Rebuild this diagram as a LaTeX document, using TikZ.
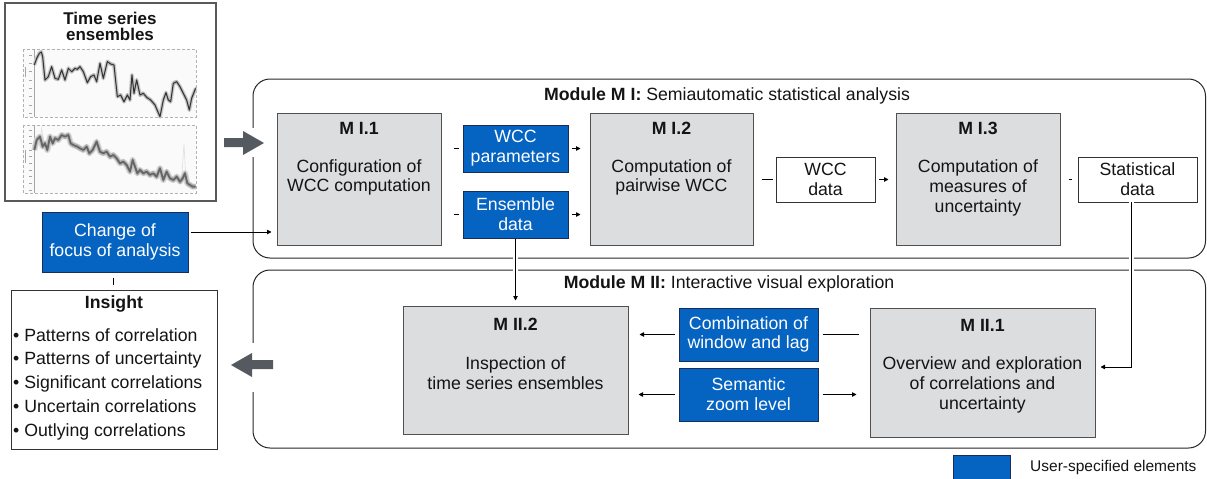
\documentclass[tikz,border=0pt]{standalone}
\usepackage{fontspec}
\setmainfont{Liberation Sans}
\usetikzlibrary{arrows.meta,calc}
\definecolor{ublue}{RGB}{5,99,193}
\definecolor{ubluedraw}{RGB}{25,45,90}
\definecolor{pgray}{RGB}{220,221,223}
\definecolor{pgraydraw}{RGB}{80,80,80}
\definecolor{agray}{RGB}{85,90,97}
\definecolor{txt}{RGB}{20,20,20}
\begin{document}
\begin{tikzpicture}[x=1pt,y=-1pt,
  every node/.style={font=\fontsize{17.7}{19.8}\selectfont, inner sep=0pt, align=center, text=txt},
  proc/.style={draw=pgraydraw, fill=pgray, line width=1pt},
  ubox/.style={draw=ubluedraw, fill=ublue, line width=1pt, text=white},
  wbox/.style={draw=black!80, fill=white, line width=0.9pt},
  modbox/.style={draw=black!85, line width=1pt, rounded corners=17pt},
  ttl/.style={font=\bfseries\fontsize{17.7}{19.8}\selectfont},
  conn/.style={draw=black, line width=0.9pt},
  arr/.style={conn, -{Triangle[length=4.5pt,width=4.5pt]}},
  gap/.style={preaction={draw=white, line width=5pt, arrows=-}},
  band/.style={line width=3pt, draw=gray!45, line join=round},
  ens/.style={line width=0.7pt, draw=gray!60, line join=round},
]
\useasboundingbox (0,0) rectangle (1207,479);

% ---------- module frames ----------
\draw[modbox] (253,79) rectangle (1205.5,258);
\draw[modbox] (253,270) rectangle (1205.5,448);
\node at (727,96) {\textbf{Module M I:} Semiautomatic statistical analysis};
\node at (729,284) {\textbf{Module M II:} Interactive visual exploration};

% ---------- time series ensembles ----------
\node[draw=black!65, line width=1.3pt, minimum width=211pt, minimum height=198pt] (ts) at (110.5,102) {};
\node[font=\bfseries\fontsize{17}{16}\selectfont] at (110,26) {Time series\\ensembles};
\begin{scope}[x=0.3333pt,y=-0.3333pt]
  \begin{scope}[shift={(0,120)}]
    \fill[gray!4] (70,28) rectangle (588,232);
    \fill[gray!4] (70,255) rectangle (588,460);
    \draw[gray!60, densely dashed, line width=0.4pt] (70,28) rectangle (588,232);
    \draw[gray!70, line width=0.5pt] (103,28) -- (103,232);
    \draw[gray!70, line width=0.6pt] (77,80) -- (77,110);
    \foreach \yy in {45,70,95,120,145,170,195,220} \draw[gray!70, line width=0.5pt] (88,\yy) -- (96,\yy);
    \draw[gray!60, densely dashed, line width=0.4pt] (70,255) rectangle (588,460);
    \draw[gray!70, line width=0.5pt] (103,255) -- (103,460);
    \draw[gray!70, line width=0.6pt] (77,330) -- (77,370);
    \foreach \yy in {270,290,310,330,350,370,390,410,430,450} \draw[gray!70, line width=0.5pt] (88,\yy) -- (96,\yy);
    \def\seriesA{(103,75) -- (110,55) -- (118,40) -- (124,36) -- (128,50) -- (135,120) -- (145,110) -- (155,80) -- (165,115) -- (175,118) -- (185,90) -- (195,120) -- (205,85) -- (215,95) -- (225,85) -- (232,88) -- (240,80) -- (250,95) -- (262,128) -- (272,110) -- (282,105) -- (290,125) -- (300,70) -- (310,115) -- (322,65) -- (332,72) -- (342,75) -- (352,170) -- (362,165) -- (372,185) -- (382,165) -- (390,180) -- (396,105) -- (402,160) -- (410,120) -- (420,165) -- (430,160) -- (440,172) -- (452,180) -- (465,195) -- (480,230) -- (490,180) -- (498,158) -- (505,180) -- (512,185) -- (520,130) -- (530,125) -- (540,140) -- (550,160) -- (560,180) -- (568,210) -- (575,175) -- (587,145)}
    \draw[band, draw=gray!30, line width=4pt] \seriesA;
    \draw[band] \seriesA;
    \draw[ens, yshift=-1.5pt] \seriesA;
    \draw[ens, yshift=1.5pt] \seriesA;
    \draw[line width=1pt, draw=black!80, line join=round] \seriesA;
    \def\seriesB{(103,330) -- (110,300) -- (120,290) -- (128,320) -- (135,310) -- (142,330) -- (150,290) -- (158,310) -- (165,295) -- (175,300) -- (185,285) -- (195,290) -- (205,285) -- (212,310) -- (220,315) -- (232,320) -- (240,325) -- (250,330) -- (260,320) -- (268,340) -- (278,330) -- (290,305) -- (300,335) -- (310,340) -- (320,335) -- (330,350) -- (340,345) -- (350,355) -- (360,370) -- (370,365) -- (380,375) -- (390,395) -- (398,360) -- (405,380) -- (412,400) -- (420,390) -- (430,400) -- (440,395) -- (450,405) -- (460,400) -- (470,410) -- (480,385) -- (490,420) -- (500,395) -- (510,415) -- (520,420) -- (530,410) -- (540,425) -- (548,415) -- (555,400) -- (562,430) -- (570,435) -- (578,440) -- (587,440)}
    \draw[gray!25, line width=0.6pt] (545,420) -- (552,310) -- (558,425);
    \draw[gray!25, line width=0.6pt] (118,310) -- (125,265) -- (132,305);
    \draw[line width=6pt, draw=gray!30, line join=round] \seriesB;
    \draw[line width=4pt, draw=gray!50, line join=round] \seriesB;
    \draw[ens, draw=gray!65, yshift=-2pt] \seriesB;
    \draw[ens, draw=gray!65, yshift=2pt] \seriesB;
    \draw[line width=1.8pt, draw=black!60, line join=round] \seriesB;
  \end{scope}
\end{scope}

% ---------- module I nodes ----------
\node[proc, minimum width=164pt, minimum height=132pt] (m11) at (359,179) {};
\node[ttl] at (359,128) {M I.1};
\node at (359,177.5) {Configuration of\\WCC computation};

\node[ubox, minimum width=105pt, minimum height=47pt] (wccp) at (515.5,148.5) {WCC\\parameters};
\node[ubox, minimum width=105pt, minimum height=47pt] (ens) at (515.5,214.5) {Ensemble\\data};

\node[proc, minimum width=163pt, minimum height=132pt] (m12) at (671.5,179) {};
\node[ttl] at (671.5,128) {M I.2};
\node at (671.5,177.5) {Computation of\\pairwise WCC};

\node[wbox, minimum width=99pt, minimum height=45pt] (wccd) at (825.5,179.5) {WCC\\data};

\node[proc, minimum width=164pt, minimum height=132pt] (m13) at (978,179) {};
\node[ttl] at (978,128) {M I.3};
\node at (978,188) {Computation of\\measures of\\uncertainty};

\node[wbox, minimum width=119pt, minimum height=45pt] (stat) at (1137.5,179.5) {Statistical\\data};

% ---------- left side ----------
\node[ubox, minimum width=146pt, minimum height=60pt] (cof) at (115,242) {Change of\\focus of analysis};
\node[wbox, minimum width=206pt, minimum height=159pt] (ins) at (114,369.5) {};
\node[ttl] at (114,304) {Insight};
\node[anchor=west, align=left, font=\fontsize{17.7}{23.75}\selectfont] at (13,384) {%
  • Patterns of correlation\\
  • Patterns of uncertainty\\
  • Significant correlations\\
  • Uncertain correlations\\
  • Outlying correlations};

% ---------- module II nodes ----------
\node[proc, minimum width=225pt, minimum height=128pt] (m22) at (515.5,370) {};
\node[ttl] at (515.5,324) {M II.2};
\node at (515.5,373) {Inspection of\\time series ensembles};

\node[ubox, minimum width=139pt, minimum height=53pt] (comb) at (748.5,334.5) {Combination of\\window and lag};
\node[ubox, minimum width=139pt, minimum height=53pt] (sem) at (748.5,394.5) {Semantic\\zoom level};

\node[proc, minimum width=225pt, minimum height=129pt] (m21) at (982.5,372.5) {};
\node[ttl] at (982.5,325) {M II.1};
\node at (982.5,385) {Overview and exploration\\of correlations and\\uncertainty};

% ---------- legend ----------
\node[ubox, minimum width=57pt, minimum height=24pt] (leg) at (981.5,467) {};
\node[anchor=west, font=\fontsize{15.5}{17}\selectfont] at (1030,467) {User-specified elements};

% ---------- connectors ----------
\draw[conn, shorten <=12pt, shorten >=4pt] (m11.east |- wccp.west) -- (wccp.west);
\draw[conn, shorten <=12pt, shorten >=4pt] (m11.east |- ens.west) -- (ens.west);
\draw[arr, shorten <=3pt, shorten >=9pt] (wccp.east) -- (m12.west |- wccp.east);
\draw[arr, shorten <=3pt, shorten >=9pt] (ens.east) -- (m12.west |- ens.east);
\draw[conn, shorten <=8pt, shorten >=3pt] (m12.east |- wccd.west) -- (wccd.west);
\draw[arr, shorten <=4pt, shorten >=7pt] (wccd.east) -- (m13.west |- wccd.east);
\draw[conn, shorten <=8pt, shorten >=6pt] (m13.east |- stat.west) -- (stat.west);

\draw[arr, gap, shorten >=5pt] (ens.south) -- (ens.south |- m22.north);
\draw[arr, gap, shorten >=5pt] ([xshift=-6pt]stat.south) |- ([yshift=5.5pt]m21.east);

\coordinate (cofa) at ([yshift=10pt]cof.east);
\draw[arr, shorten <=2pt, shorten >=5pt] (cofa) -- (m11.west |- cofa);
\draw[conn, shorten <=5pt, shorten >=5pt] ([xshift=-2pt]cof.south) -- ([xshift=-2pt]cof.south |- ins.north);

\draw[arr, shorten <=4pt, shorten >=11pt] (comb.west) -- (m22.east |- comb.west);
\draw[conn, shorten <=4pt, shorten >=11pt] (comb.east) -- (m21.west |- comb.east);
\draw[arr, shorten <=4pt, shorten >=10pt] (sem.west) -- (m22.east |- sem.west);
\draw[arr, shorten <=4pt, shorten >=13pt] (sem.east) -- (m21.west |- sem.east);

% ---------- big gray arrows ----------
\fill[white] (249,128) rectangle (257,157);
\fill[white] (249,343) rectangle (257,392);
\fill[agray] (224,138) -- (243,138) -- (243,131) -- (264,143) -- (243,155) -- (243,147) -- (224,147) -- cycle;
\fill[agray] (273,360) -- (252,360) -- (252,353) -- (231,365) -- (252,377) -- (252,369) -- (273,369) -- cycle;
\end{tikzpicture}
\end{document}
